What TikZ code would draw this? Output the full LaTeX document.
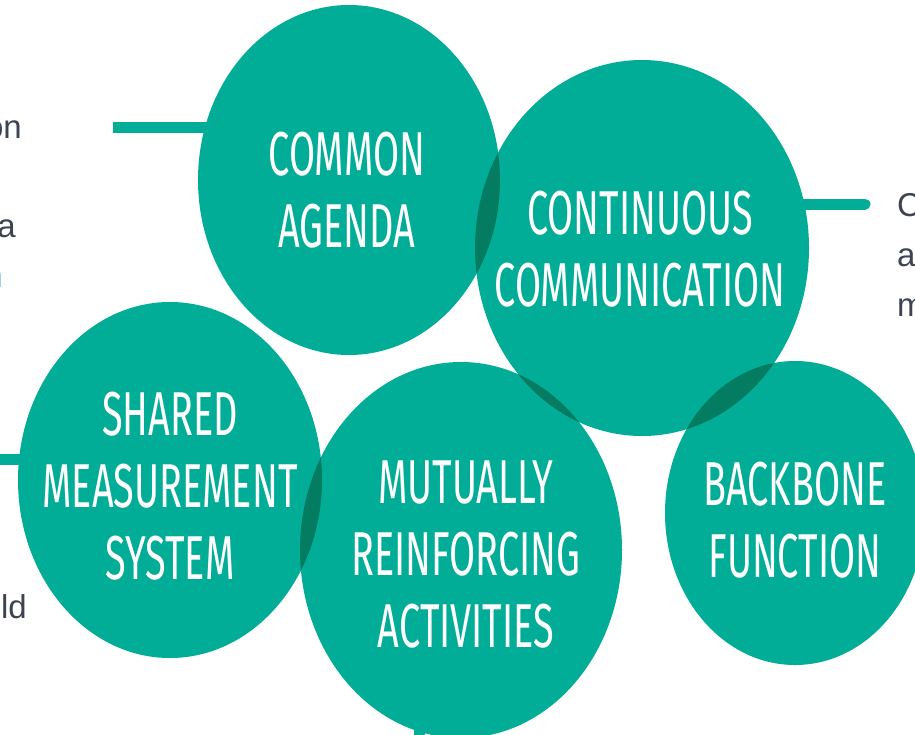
\documentclass[tikz,border=0pt]{standalone}
\usepackage{fontspec}
\setmainfont{Liberation Sans}
\newfontfamily\condfont[FakeStretch=0.61]{Fira Sans}
\definecolor{teal1}{HTML}{02AD97}
\definecolor{tealdark}{HTML}{037C61}
\definecolor{sidegray}{HTML}{3D4350}
\definecolor{sideblue}{HTML}{1E9FD8}
\begin{document}
\begin{tikzpicture}[x=1pt,y=-1pt,
  blob/.style={fill=teal1},
  lens/.style={fill=tealdark},
  conn/.style={draw=teal1,line width=11pt},
  ellCA/.style={x radius=151pt,y radius=175pt},
  ellCC/.style={x radius=167pt,y radius=188pt},
  ellSM/.style={x radius=152pt,y radius=178pt},
  ellMR/.style={x radius=161pt,y radius=188pt},
  ellBB/.style={x radius=130pt,y radius=152pt},
  label/.style={text=white,font=\condfont\fontsize{62}{72}\selectfont,align=center,inner sep=0pt},
  side/.style={text=sidegray,font=\fontsize{33}{50}\selectfont,inner sep=0pt}]
\clip (0,0) rectangle (915,734);
\fill[white] (0,0) rectangle (915,734);
% ellipse centres
\coordinate (ca) at (349,180);
\coordinate (cc) at (642,248);
\coordinate (sm) at (170,480);
\coordinate (mr) at (461,550);
\coordinate (bb) at (795,513);
% connectors
\coordinate (e1) at (113,127);
\coordinate (e2) at (865,204);
\coordinate (e3) at (-10,459);
\coordinate (e4) at (419,745);
\draw[conn] (e1) -- (e1 -| ca);
\draw[conn,line cap=round] (e2) -- (e2 -| cc);
\draw[conn] (e3) -- (e3 -| sm);
\draw[conn] (e4) -- (e4 |- mr);
% ellipses
\fill[blob] (ca) ellipse [ellCA];
\fill[blob] (cc) ellipse [ellCC];
\fill[blob] (sm) ellipse [ellSM];
\fill[blob] (mr) ellipse [ellMR];
\fill[blob] (bb) ellipse [ellBB];
% overlaps
\begin{scope}\clip (ca) ellipse [ellCA]; \fill[lens] (cc) ellipse [ellCC];\end{scope}
\begin{scope}\clip (cc) ellipse [ellCC]; \fill[lens] (bb) ellipse [ellBB];\end{scope}
\begin{scope}\clip (cc) ellipse [ellCC]; \fill[lens] (mr) ellipse [ellMR];\end{scope}
\begin{scope}\clip (sm) ellipse [ellSM]; \fill[lens] (mr) ellipse [ellMR];\end{scope}
% labels
\node[label] (tca) at (347,190.5) {COMMON\\AGENDA};
\node[label] (tcc) at (640,249) {CONTINUOUS\\COMMUNICATION};
\node[label] (tsm) at (170,486.5) {SHARED\\MEASUREMENT\\SYSTEM};
\node[label] (tmr) at (466,555) {MUTUALLY\\REINFORCING\\ACTIVITIES};
\node[label] (tbb) at (795,520) {BACKBONE\\FUNCTION};
% side texts
\node[side,anchor=base east] (t1) at (22,138) {on};
\node[side,anchor=base east] (t2) at (16,237) {a};
\node[side,anchor=base east,text=sideblue] (t3) at (3,287) {n};
\node[side,anchor=base east] (t4) at (27,618) {old};
\node[side,anchor=base west] (t5) at (897,216) {C};
\node[side,anchor=base west] (t6) at (897,266) {ac};
\node[side,anchor=base west] (t7) at (897,316) {m};
\end{tikzpicture}
\end{document}
